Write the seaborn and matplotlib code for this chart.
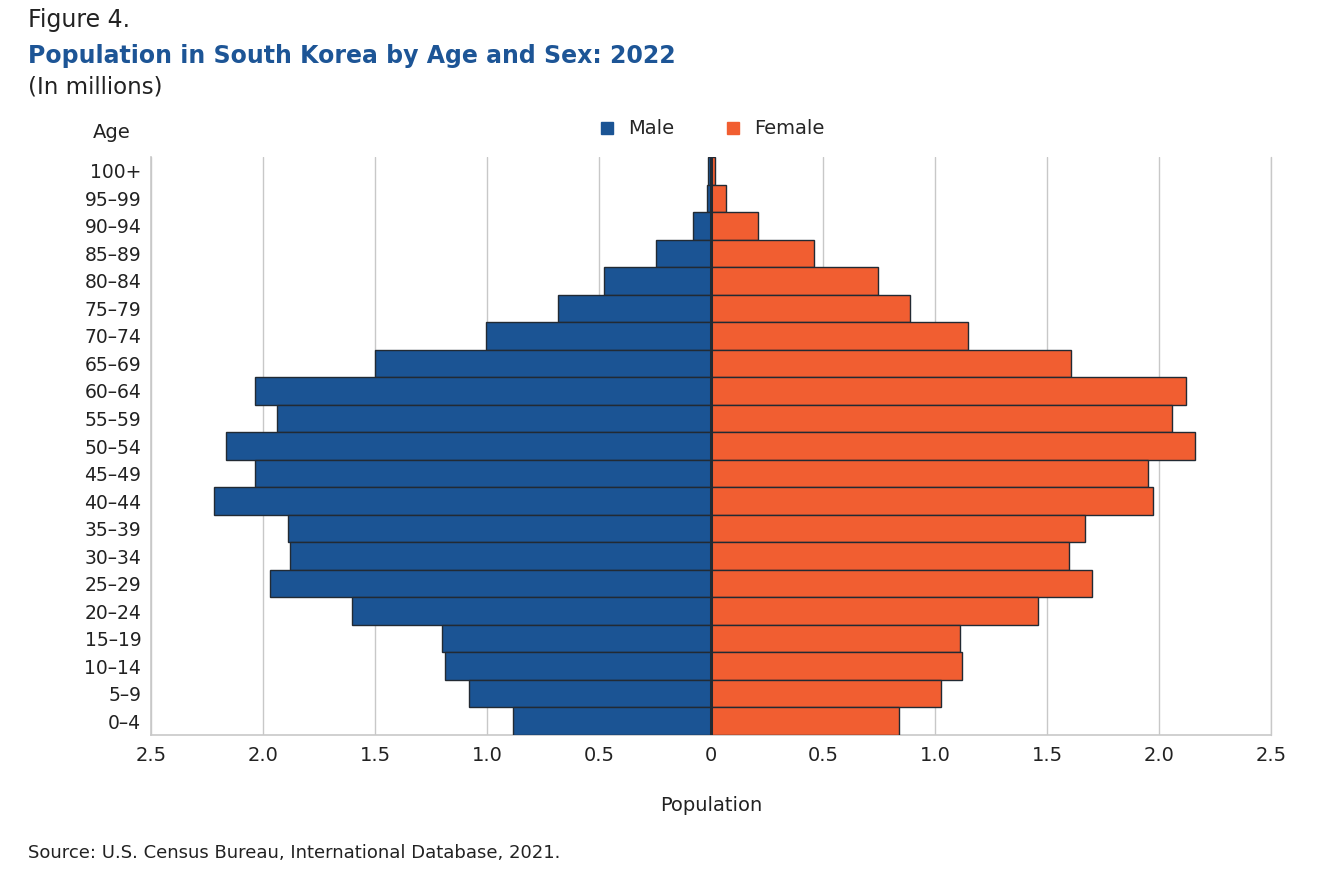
import pandas as pd
import numpy as np
import matplotlib
matplotlib.use('Agg')
import matplotlib.pyplot as plt
import seaborn as sns
from matplotlib.ticker import FuncFormatter
from matplotlib.lines import Line2D

# Données (en millions), de la tranche la plus âgée à la plus jeune
ages = ['100+', '95–99', '90–94', '85–89', '80–84', '75–79', '70–74', '65–69',
        '60–64', '55–59', '50–54', '45–49', '40–44', '35–39', '30–34', '25–29',
        '20–24', '15–19', '10–14', '5–9', '0–4']
male = [0.013, 0.02, 0.08, 0.245, 0.478, 0.683, 1.004, 1.50,
        2.036, 1.938, 2.165, 2.036, 2.219, 1.888, 1.879, 1.969,
        1.603, 1.201, 1.188, 1.080, 0.884]
female = [0.018, 0.067, 0.21, 0.46, 0.746, 0.888, 1.147, 1.607,
          2.121, 2.058, 2.161, 1.951, 1.973, 1.670, 1.598, 1.701,
          1.460, 1.112, 1.121, 1.027, 0.839]
ticks = [-2.5, -2.0, -1.5, -1.0, -0.5, 0, 0.5, 1.0, 1.5, 2.0, 2.5]

blue = '#1b5494'
orange = '#f15e31'
edge = '#222a33'

df = pd.DataFrame({'age': ages, 'male': [-v for v in male], 'female': female})

sns.set_style('white')
plt.rcParams['font.family'] = ['DejaVu Sans']

fig = plt.figure(figsize=(13.3, 8.84), dpi=100)
ax = fig.add_axes([151 / 1330, 1 - 735 / 884, 1120 / 1330, 578 / 884])

sns.barplot(data=df, x='male', y='age', orient='h', color=blue, width=1.0,
            edgecolor=edge, linewidth=1.0, saturation=1, ax=ax, zorder=3)
sns.barplot(data=df, x='female', y='age', orient='h', color=orange, width=1.0,
            edgecolor=edge, linewidth=1.0, saturation=1, ax=ax, zorder=3)

ax.axvline(0, color=edge, linewidth=2.2, zorder=4)

ax.set_xlim(-2.5, 2.5)
ax.set_ylim(len(ages) - 0.5, -0.5)
ax.set_xticks(ticks)
ax.xaxis.set_major_formatter(FuncFormatter(lambda v, p: '0' if v == 0 else f'{abs(v):.1f}'))
ax.grid(axis='x', color='#c8c8c8', linewidth=1.0, zorder=0)
ax.set_axisbelow(True)
# dernière ligne de grille à droite (sinon coupée au bord)
ax.axvline(2.5, color='#c8c8c8', linewidth=1.0, zorder=0, clip_on=False)

for side in ['top', 'right']:
    ax.spines[side].set_visible(False)
for side in ['left', 'bottom']:
    ax.spines[side].set_color('#c8c8c8')
    ax.spines[side].set_linewidth(1.2)

ax.tick_params(axis='y', length=0, labelsize=13.5, colors='#222222', pad=7)
ax.tick_params(axis='x', length=0, labelsize=14, colors='#222222', pad=8)
ax.set_xlabel('Population', fontsize=14, color='#222222', labelpad=22)
ax.set_ylabel('')

fig.text(112 / 1330, 1 - 132 / 884, 'Age', fontsize=14, color='#222222', ha='center', va='center')

handles = [Line2D([], [], marker='s', linestyle='', color=blue, markersize=9, label='Male'),
           Line2D([], [], marker='s', linestyle='', color=orange, markersize=9, label='Female')]
fig.legend(handles=handles, loc='center', bbox_to_anchor=(711 / 1330, 1 - 129 / 884), ncol=2,
           frameon=False, fontsize=14, handletextpad=0.6, columnspacing=2.5, handlelength=1.0)

fig.text(28 / 1330, 1 - 20 / 884, 'Figure 4.', fontsize=17, color='#222222', va='center')
fig.text(28 / 1330, 1 - 56 / 884, 'Population in South Korea by Age and Sex: 2022', fontsize=17,
         fontweight='bold', color='#1d5596', va='center')
fig.text(28 / 1330, 1 - 87 / 884, '(In millions)', fontsize=16.5, color='#222222', va='center')
fig.text(28 / 1330, 1 - 853 / 884, 'Source: U.S. Census Bureau, International Database, 2021.',
         fontsize=13, color='#222222', va='center')

fig.savefig('out.png', dpi=100)
